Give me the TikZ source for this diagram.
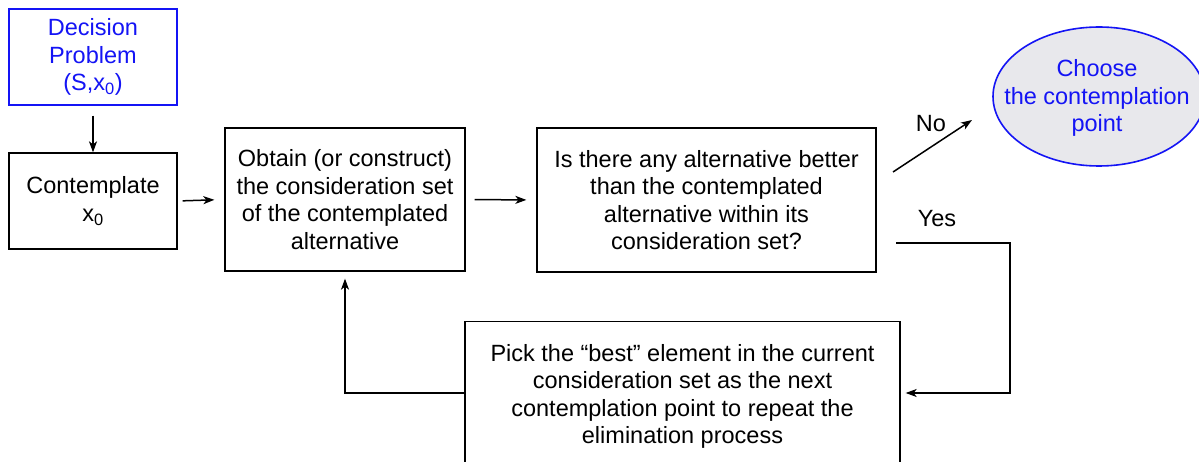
\documentclass[tikz,border=0pt]{standalone}
\usepackage{fontspec}
\setmainfont{Liberation Sans}
\usetikzlibrary{arrows.meta,shapes.geometric,calc}
\definecolor{dblue}{RGB}{20,20,245}
\definecolor{ellfill}{RGB}{232,232,236}
\begin{document}
\begin{tikzpicture}[x=1pt,y=-1pt,
  every node/.style={font=\fontsize{23.5}{27.5}\selectfont, align=center, inner sep=0pt},
  box/.style={draw=black, line width=1.3pt, rectangle},
  bluebox/.style={draw=dblue, line width=1.3pt, rectangle, text=dblue},
  oval/.style={draw=dblue, line width=1.6pt, fill=ellfill},
  conn/.style={line width=1.5pt, -{Stealth[length=11pt,width=8pt,inset=3pt]}},
  plain/.style={line width=1.5pt}]
\useasboundingbox (0,0) rectangle (1199,462);
\clip (0,0) rectangle (1199,462);
\fill[white] (0,0) rectangle (1199,462);
\node[bluebox, minimum width=168pt, minimum height=96pt] (dp) at (93,57) {Decision\\Problem\\(S,x\textsubscript{0})};
\node[box, minimum width=168pt, minimum height=96pt] (ct) at (93,201) {Contemplate\\x\textsubscript{0}};
\node[box, minimum width=240pt, minimum height=143pt] (ob) at (345,199.5) {Obtain (or construct)\\the consideration set\\of the contemplated\\alternative};
\node[box, minimum width=339pt, minimum height=144pt] (is) at (706.5,200) {Is there any alternative better\\than the contemplated\\alternative within its\\consideration set?};
\draw[oval] (1099,96.5) ellipse [x radius=106, y radius=69.5];
\node[text=dblue] (ch) at (1097,98) {Choose\\the contemplation\\point};
\node[box, minimum width=435pt, minimum height=150pt, anchor=north] (pk) at (682.5,321) {Pick the \char"201C best\char"201D\ element in the current\\consideration set as the next\\contemplation point to repeat the\\elimination process};
\node (no) at (931,124) {No};
\node (yes) at (937,219) {Yes};
\coordinate (noS) at (893,172);
\coordinate (noE) at (972,120);
\coordinate (yS) at (896,243);
\coordinate (yC) at (1010,243);
\coordinate (lC) at (345,393);
\draw[conn, shorten <=10pt] (dp.south) -- (ct.north);
\draw[conn, shorten <=5pt, shorten >=10pt] (ct.east) -- (ob.west);
\draw[conn, shorten <=9pt, shorten >=10pt] (ob.east) -- (is.west);
\draw[conn] (noS) -- (noE);
\draw[conn, shorten >=5pt] (yS) -- (yC) |- (pk.east |- lC);
\draw[conn, shorten >=7pt] (pk.west |- lC) -- (lC) -- (ob.south);
\end{tikzpicture}
\end{document}
